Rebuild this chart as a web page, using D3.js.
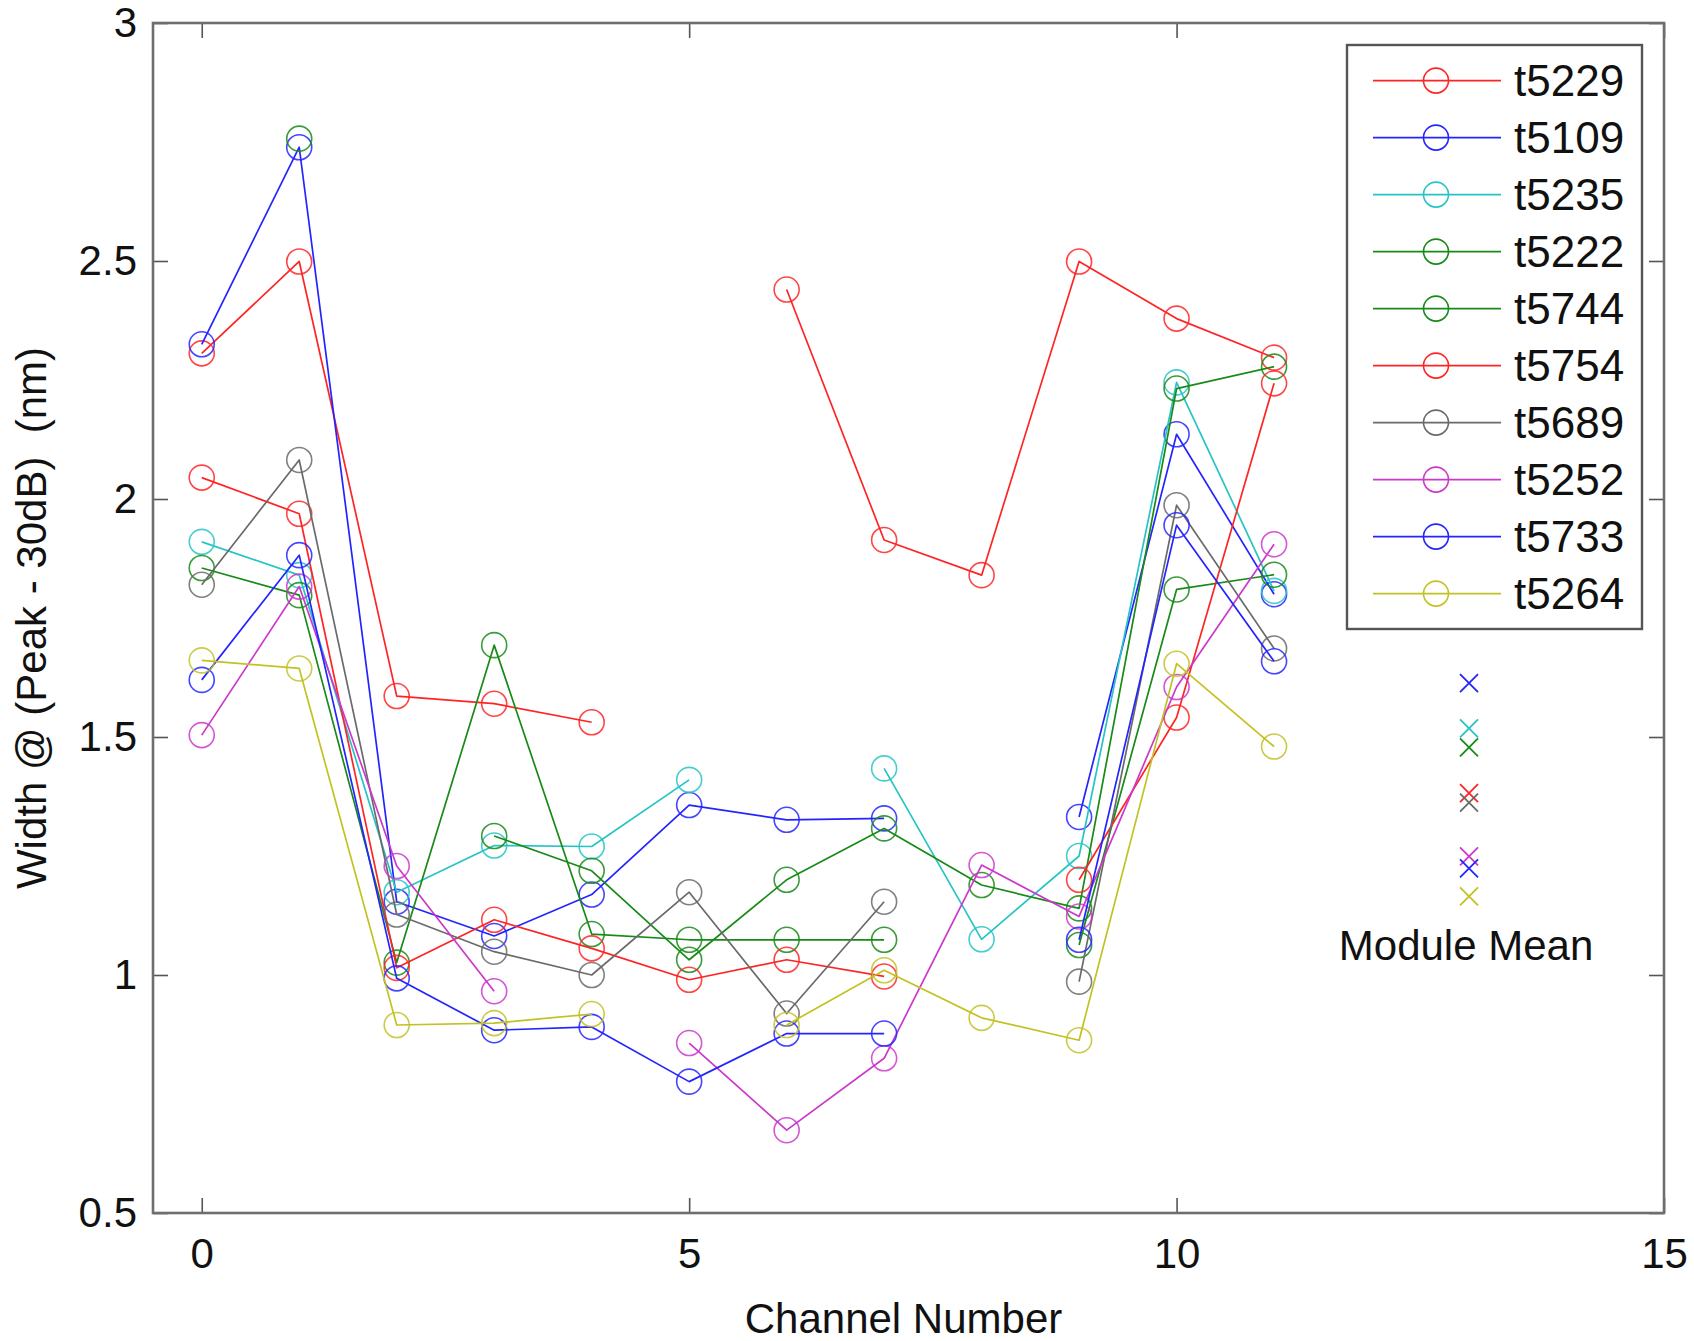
<!DOCTYPE html>
<html>
<head>
<meta charset="utf-8">
<script src="https://cdn.jsdelivr.net/npm/d3@7"></script>
<style>
  html, body { margin: 0; padding: 0; background: #fff; }
  svg { display: block; font-family: "Liberation Sans", Arial, sans-serif; }
</style>
</head>
<body>
<svg id="chart" width="1694" height="1341"></svg>
<script>
// channel numbers on the x axis
const channels = [0, 1, 2, 3, 4, 5, 6, 7, 8, 9, 10, 11];

// width @ (peak - 30dB) per channel, null = no measurement
const t5229 = [2.306, 2.499, 1.586, 1.570, 1.531, null, 2.440, 1.914, 1.840, 2.499, 2.379, 2.297];
const t5109 = [2.325, 2.739, 1.154, 1.082, 1.169, 1.357, 1.326, 1.329, null, 1.332, 2.136, 1.800];
const t5235 = [1.910, 1.840, 1.174, 1.272, 1.270, 1.410, null, 1.434, 1.075, 1.250, 2.245, 1.807];
const t5222 = [1.855, 1.798, 1.026, 1.693, 1.086, 1.074, 1.074, 1.074, null, 1.063, 1.810, 1.841];
const t5744 = [null, 2.757, null, 1.292, 1.219, 1.032, 1.200, 1.308, 1.189, 1.140, 2.232, 2.278];
const t5754 = [2.045, 1.969, 1.015, 1.116, 1.056, 0.990, 1.032, 0.997, null, 1.200, 1.541, 2.243];
const t5689 = [1.820, 2.082, 1.127, 1.049, 1.000, 1.174, 0.919, 1.154, null, 0.986, 1.987, 1.686];
const t5252 = [1.504, 1.816, 1.229, 0.966, null, 0.857, 0.674, 0.825, 1.231, 1.123, 1.605, 1.905];
const t5733 = [1.620, 1.882, 0.993, 0.884, 0.891, 0.776, 0.877, 0.877, null, 1.074, 1.945, 1.659];
const t5264 = [1.661, 1.644, 0.895, 0.899, 0.918, null, 0.895, 1.010, 0.910, 0.863, 1.654, 1.480];

const seriesNames = ["t5229", "t5109", "t5235", "t5222", "t5744", "t5754", "t5689", "t5252", "t5733", "t5264"];
const seriesValues = [t5229, t5109, t5235, t5222, t5744, t5754, t5689, t5252, t5733, t5264];

// module mean markers, drawn at one channel position
const meanChannel = 13;
const meanSeries = ["t5109", "t5235", "t5222", "t5229", "t5689", "t5252", "t5733", "t5264"];
const meanValues = [1.613, 1.518, 1.478, 1.382, 1.362, 1.249, 1.224, 1.165];

const xTicks = [0, 5, 10, 15];
const yTicks = [0.5, 1, 1.5, 2, 2.5, 3];

const colors = {
  t5229: "#ff2424", t5109: "#2424ff", t5235: "#26c4c4", t5222: "#178a17", t5744: "#178a17",
  t5754: "#ff2424", t5689: "#6a6a6a", t5252: "#cc38cc", t5733: "#2424ff", t5264: "#c2c224",
};

const svg = d3.select("#chart");
const m = { left: 153, right: 1664, top: 23, bottom: 1213 };

svg.append("rect").attr("width", 1694).attr("height", 1341).attr("fill", "#fff");

const x = d3.scaleLinear().domain([-0.5, 15]).range([m.left, m.right]);
const y = d3.scaleLinear().domain([0.5, 3]).range([m.bottom, m.top]);

// axes with inward ticks
const axisStyle = (g) => {
  g.select(".domain").remove();
  g.selectAll(".tick line").attr("stroke", "#555").attr("stroke-width", 1.6);
  g.selectAll(".tick text").attr("fill", "#111").attr("font-size", 42)
    .attr("font-family", "'Liberation Sans', Arial, sans-serif");
};

svg.append("g").attr("transform", `translate(0,${m.bottom})`)
  .call(d3.axisBottom(x).tickValues(xTicks).tickSizeInner(-15).tickSizeOuter(0).tickPadding(25))
  .call(axisStyle);
svg.append("g").attr("transform", `translate(0,${m.top})`)
  .call(d3.axisTop(x).tickValues(xTicks).tickSizeInner(-15).tickSizeOuter(0).tickFormat(""))
  .call(axisStyle);
svg.append("g").attr("transform", `translate(${m.left},0)`)
  .call(d3.axisLeft(y).tickValues(yTicks).tickSizeInner(-15).tickSizeOuter(0).tickPadding(16)
    .tickFormat(d3.format("")))
  .call(axisStyle);
svg.append("g").attr("transform", `translate(${m.right},0)`)
  .call(d3.axisRight(y).tickValues(yTicks).tickSizeInner(-15).tickSizeOuter(0).tickFormat(""))
  .call(axisStyle);

svg.append("rect")
  .attr("x", m.left).attr("y", m.top)
  .attr("width", m.right - m.left).attr("height", m.bottom - m.top)
  .attr("fill", "none").attr("stroke", "#6e6e6e").attr("stroke-width", 2.6);

// series lines + circle markers
const line = d3.line()
  .defined((d) => d != null)
  .x((d, i) => x(channels[i]))
  .y((d) => y(d));

const plot = svg.append("g");
seriesNames.forEach((name, k) => {
  const vals = seriesValues[k];
  const g = plot.append("g");
  g.append("path")
    .attr("d", line(vals))
    .attr("fill", "none")
    .attr("stroke", colors[name])
    .attr("stroke-width", 1.7)
    .attr("stroke-linejoin", "round");
  g.selectAll("circle")
    .data(vals.map((v, i) => [channels[i], v]).filter((d) => d[1] != null))
    .join("circle")
    .attr("cx", (d) => x(d[0]))
    .attr("cy", (d) => y(d[1]))
    .attr("r", 12.5)
    .attr("fill", "none")
    .attr("stroke", colors[name])
    .attr("stroke-width", 1.6)
    .attr("stroke-opacity", 0.85);
});

// module means
svg.append("g").selectAll("path")
  .data(meanValues.map((v, i) => [meanSeries[i], v]))
  .join("path")
  .attr("transform", (d) => `translate(${x(meanChannel)},${y(d[1])})`)
  .attr("d", "M-9,-9L9,9M-9,9L9,-9")
  .attr("stroke", (d) => colors[d[0]])
  .attr("stroke-width", 1.8)
  .attr("fill", "none");

svg.append("text")
  .attr("x", x(meanChannel) - 3).attr("y", 960)
  .attr("text-anchor", "middle").attr("font-size", 42).attr("fill", "#111")
  .text("Module Mean");

// legend
const lg = svg.append("g");
lg.append("rect")
  .attr("x", 1347).attr("y", 45).attr("width", 295).attr("height", 584)
  .attr("fill", "#fff").attr("stroke", "#555").attr("stroke-width", 2.4);
seriesNames.forEach((name, i) => {
  const cy = 80.6 + 57 * i;
  lg.append("line").attr("x1", 1373).attr("x2", 1501).attr("y1", cy).attr("y2", cy)
    .attr("stroke", colors[name]).attr("stroke-width", 1.7);
  lg.append("circle").attr("cx", 1436).attr("cy", cy).attr("r", 12.5)
    .attr("fill", "none").attr("stroke", colors[name]).attr("stroke-width", 1.6);
  lg.append("text").attr("x", 1514).attr("y", cy).attr("dy", "0.36em")
    .attr("font-size", 44).attr("fill", "#111").text(name);
});

// axis titles
svg.append("text")
  .attr("x", (m.left + m.right) / 2 - 5).attr("y", 1333)
  .attr("text-anchor", "middle").attr("font-size", 42).attr("fill", "#111")
  .text("Channel Number");

svg.append("text")
  .attr("transform", `translate(46,${(m.top + m.bottom) / 2}) rotate(-90)`)
  .attr("text-anchor", "middle").attr("font-size", 42).attr("fill", "#111")
  .style("white-space", "pre")
  .text("Width @ (Peak - 30dB)  (nm)");
</script>
</body>
</html>
